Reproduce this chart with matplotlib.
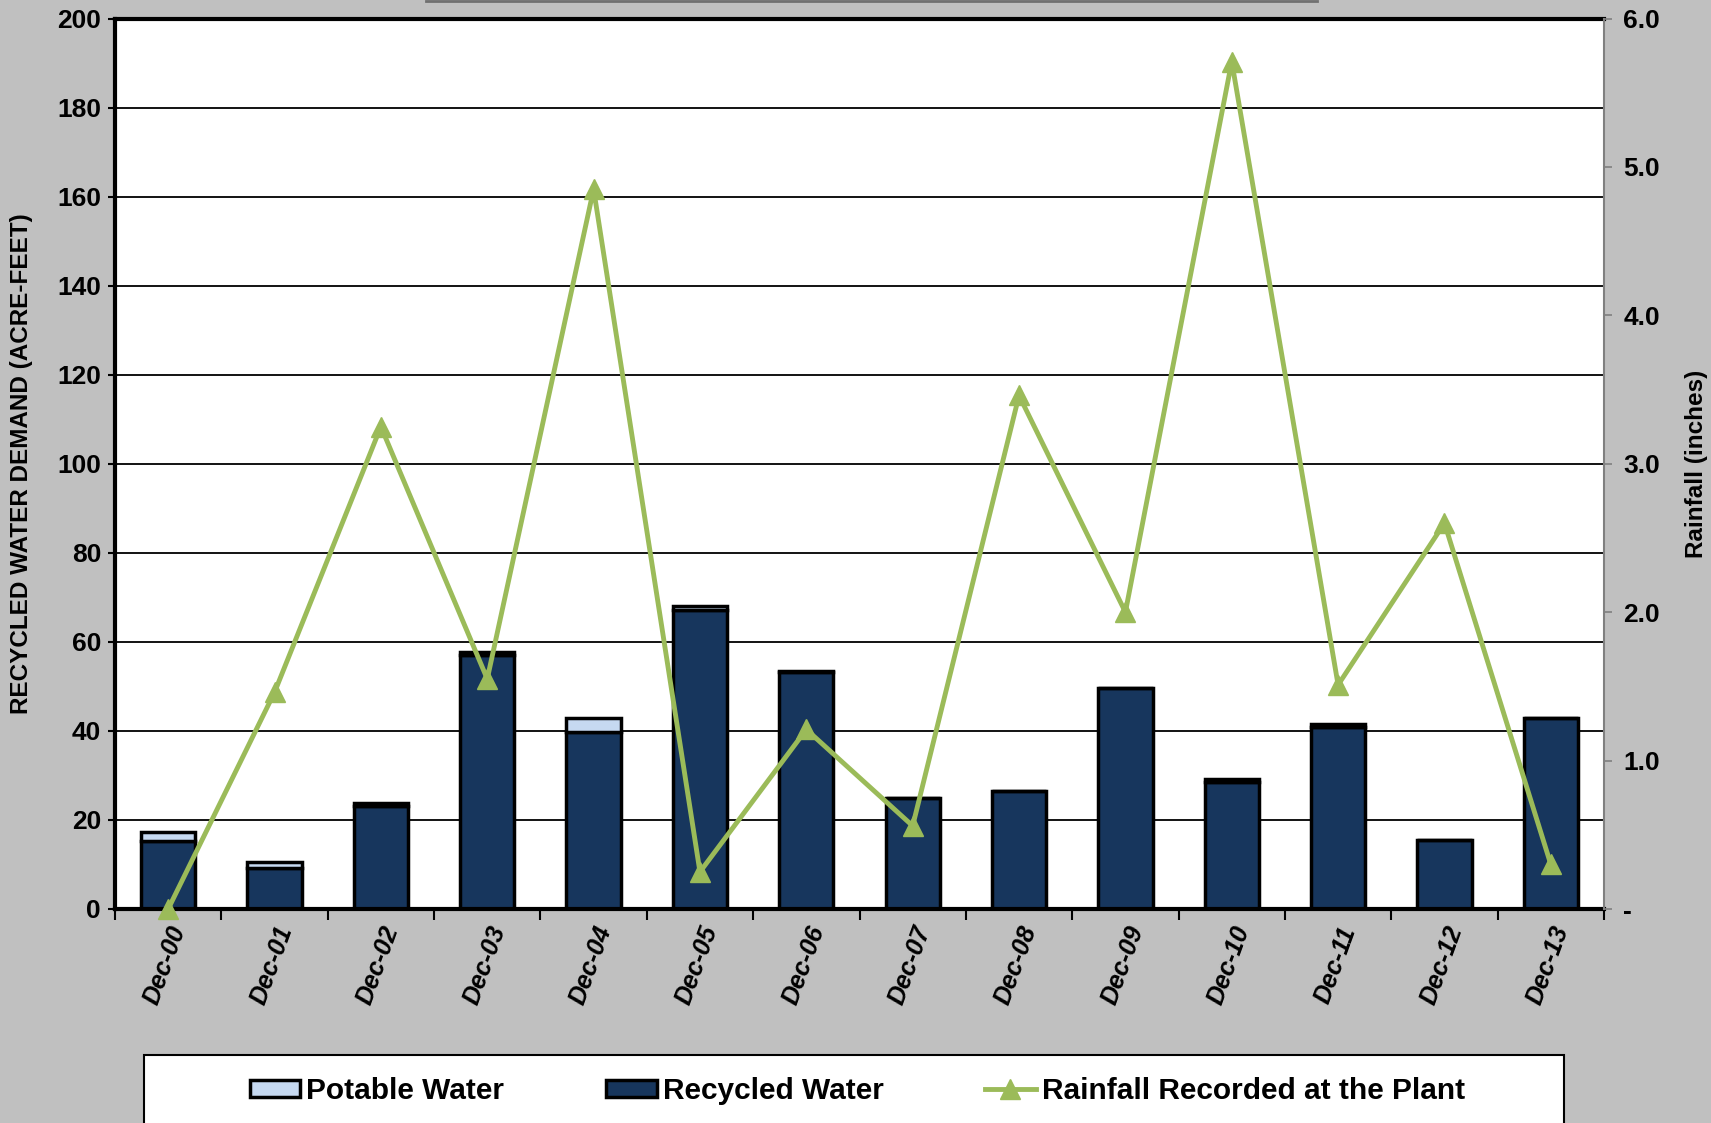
import matplotlib
matplotlib.use("Agg")
import matplotlib.pyplot as plt
from matplotlib.lines import Line2D
from matplotlib.patches import Patch, Rectangle
import numpy as np

categories = ["Dec-00", "Dec-01", "Dec-02", "Dec-03", "Dec-04", "Dec-05", "Dec-06",
              "Dec-07", "Dec-08", "Dec-09", "Dec-10", "Dec-11", "Dec-12", "Dec-13"]
recycled = [15.2, 9.3, 23.1, 57.0, 39.8, 67.2, 53.2, 25.0, 26.4, 49.7, 28.5, 40.8, 15.6, 42.9]
potable = [2.2, 1.3, 0.6, 0.8, 3.1, 0.8, 0.3, 0.0, 0.0, 0.0, 0.8, 0.8, 0.0, 0.0]
rainfall = [0.0, 1.46, 3.25, 1.55, 4.85, 0.25, 1.21, 0.56, 3.46, 2.0, 5.71, 1.51, 2.6, 0.30]
left_ticks = list(range(0, 201, 20))
right_ticks = [0, 1, 2, 3, 4, 5, 6]
right_tick_labels = ["-", "1.0", "2.0", "3.0", "4.0", "5.0", "6.0"]

FONT = ["Liberation Sans", "DejaVu Sans"]
plt.rcParams['font.family'] = FONT
plt.rcParams['font.weight'] = 'bold'

NAVY = "#17365D"
LIGHT = "#C6D9F1"
GREEN = "#9BBB59"
BG = "#C0C0C0"

fig = plt.figure(figsize=(17.11, 11.23), dpi=100, facecolor=BG)
ax = fig.add_axes([115/1711, 1-909/1123, (1604-115)/1711, (909-18.5)/1123])
ax.set_facecolor("white")

x = np.arange(len(categories))
w = 0.51
ax.bar(x, recycled, width=w, color=NAVY, edgecolor="black", linewidth=2.5, zorder=2)
ax.bar(x, potable, width=w, bottom=recycled, color=LIGHT, edgecolor="black", linewidth=2.5, zorder=2)

ax.set_xlim(-0.5, len(categories) - 0.5)
ax.set_ylim(0, 200)
ax.set_yticks(left_ticks)
ax.set_yticklabels([str(t) for t in left_ticks], fontsize=19, fontweight='bold')
ax.yaxis.grid(True, color="black", linewidth=1.3)
ax.set_axisbelow(True)

ax.set_xticks(np.arange(-0.5, len(categories), 1.0))
ax.set_xticklabels([])
ax.set_xticks(x, minor=True)
ax.set_xticklabels(categories, minor=True, rotation=70, ha='right', va='top',
                   rotation_mode='anchor', fontsize=18, fontweight='bold', fontstyle='italic')
ax.tick_params(axis='x', which='minor', length=0, pad=10)
ax.tick_params(axis='x', which='major', length=8, width=1.5, direction='out')
ax.tick_params(axis='y', length=5, width=1.5, direction='out', pad=5)

for side in ["left", "bottom", "top"]:
    ax.spines[side].set_linewidth(3)
    ax.spines[side].set_color("black")
ax.spines["right"].set_visible(False)

ax2 = ax.twinx()
ax2.set_ylim(0, 6)
ax2.set_yticks(right_ticks)
ax2.set_yticklabels(right_tick_labels, fontsize=19, fontweight='bold')
ax2.tick_params(axis='y', length=6, width=1.2, color="#808080", direction='out', pad=8)
ax2.spines["right"].set_color("#808080")
ax2.spines["right"].set_linewidth(1.5)
for side in ["left", "bottom", "top"]:
    ax2.spines[side].set_visible(False)
ax2.plot(x, rainfall, color=GREEN, linewidth=3.5, marker='^', markersize=15,
         markerfacecolor=GREEN, markeredgecolor=GREEN, zorder=5, clip_on=False)

fig.text(22/1711, 1 - 464/1123, "RECYCLED WATER DEMAND (ACRE-FEET)", rotation=90,
         ha='center', va='center', fontsize=17.5, fontweight='bold')
fig.text(1697/1711, 1 - 464/1123, "Rainfall (inches)", rotation=90,
         ha='center', va='center', fontsize=17.5, fontweight='bold')

# legend box
fig.patches.append(Rectangle((144/1711, -0.05), (1564-144)/1711, 0.05 + 1 - 1055/1123,
                             transform=fig.transFigure, facecolor="white",
                             edgecolor="black", linewidth=1.5, zorder=0))
handles = [Patch(facecolor=LIGHT, edgecolor="black", linewidth=2.5),
           Patch(facecolor=NAVY, edgecolor="black", linewidth=2.5),
           Line2D([0], [0], color=GREEN, linewidth=3.5, marker='^', markersize=15)]
labels = ["Potable Water", "Recycled Water", "Rainfall Recorded at the Plant"]
fig.legend(handles, labels, loc='center', bbox_to_anchor=(0.501, 1 - 1091/1123),
           ncol=3, frameon=False, prop={'family': FONT, 'weight': 'bold', 'size': 21.5},
           handlelength=1.7, handleheight=0.5, handletextpad=0.2, columnspacing=3.4)

# top box edge (cut-off title box)
fig.add_artist(Line2D([426/1711, 1317/1711], [1 - 1/1123, 1 - 1/1123],
                      transform=fig.transFigure, color="#707070", linewidth=2))

fig.savefig("out.png", dpi=100, facecolor=BG)
